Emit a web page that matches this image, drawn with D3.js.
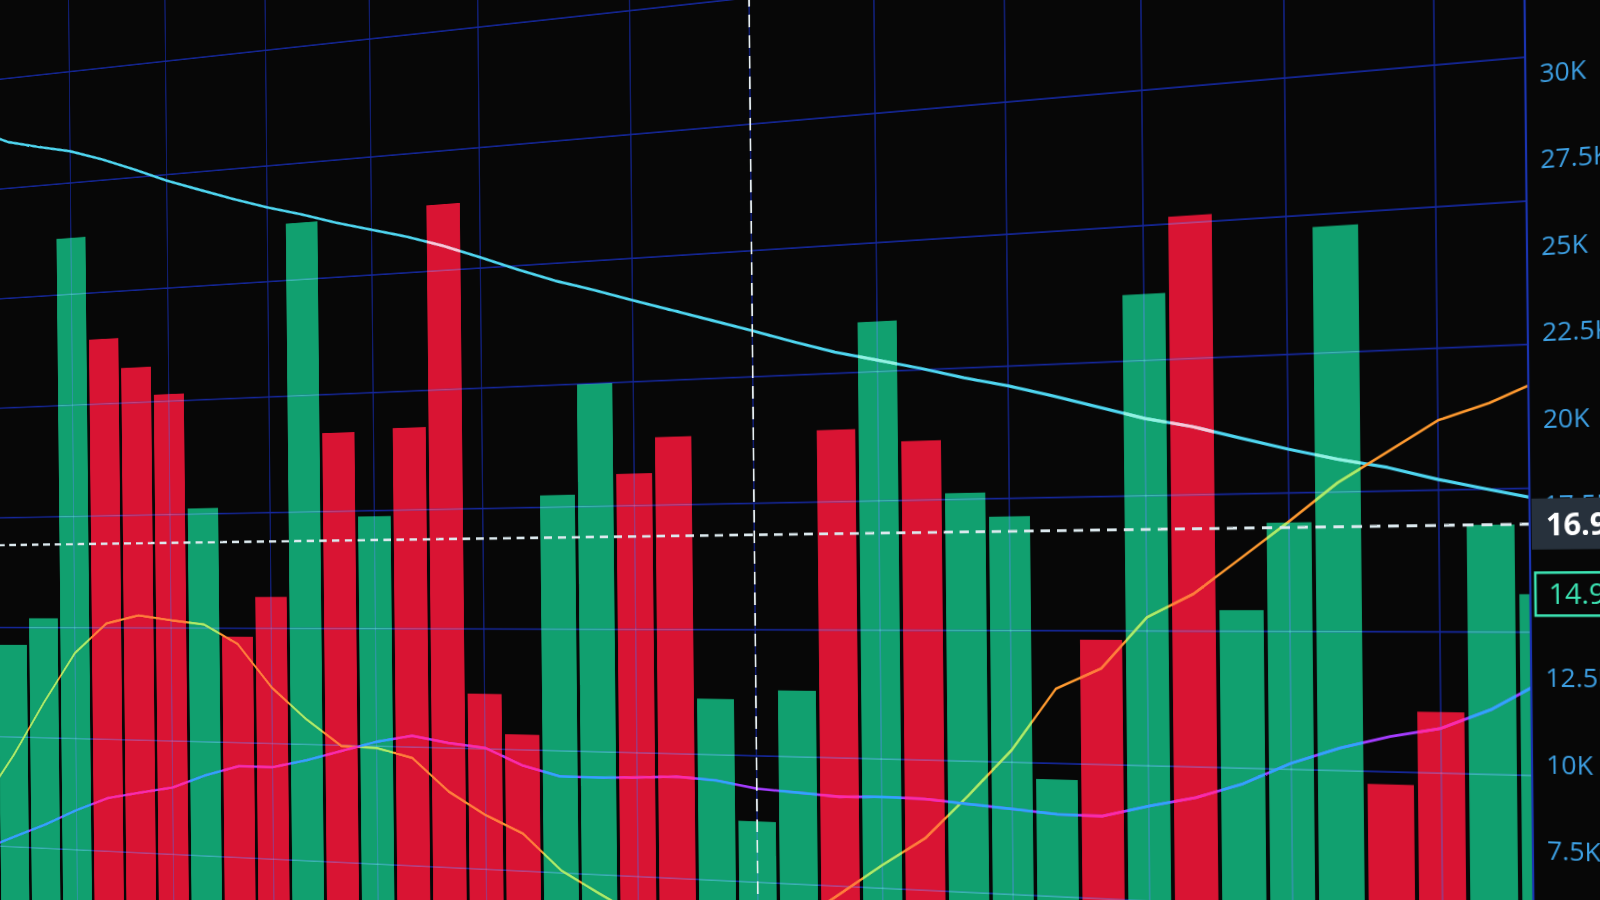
<!DOCTYPE html>
<html>
<head>
<meta charset="utf-8">
<script src="https://cdn.jsdelivr.net/npm/d3@7"></script>
<style>
  html, body { margin: 0; padding: 0; width: 1600px; height: 900px; overflow: hidden; background: #070707; }
  #chart { position: absolute; left: 0; top: 0; transform-origin: 0 0; }
</style>
</head>
<body>
<svg id="chart"></svg>
<script>
// ---------------- DATA ----------------
const barIndex = d3.range(39);
const volumes = [13.17, 14.18, 28.44, 24.59, 23.47, 22.43, 18.21, 13.52, 14.96, 28.37,
                 20.8, 17.8, 20.89, 28.64, 11.58, 10.2, 18.41, 22.16, 19.08, 20.28,
                 11.53, 7.51, 11.84, 20.34, 23.79, 19.9, 18.2, 17.43, 9.17, 13.55,
                 24.22, 26.55, 14.47, 17.11, 25.96, 9.3, 11.47, 16.96, 14.93];
const direction = ["up","up","up","down","down","down","up","down","down","up",
                   "down","up","down","down","down","down","up","up","down","down",
                   "up","up","up","down","up","down","up","up","up","down",
                   "up","down","up","up","up","down","down","up","up"];
const lineIndex = d3.range(-1, 39);
const slowLine = [32.8, 32.26, 31.96, 31.69, 31.28, 30.8, 30.28, 29.84, 29.41, 29.01,
                  28.66, 28.27, 27.93, 27.59, 27.18, 26.7, 26.2, 25.73, 25.34, 24.92,
                  24.51, 24.1, 23.69, 23.26, 22.86, 22.54, 22.22, 21.86, 21.55, 21.18,
                  20.78, 20.38, 20.09, 19.7, 19.32, 18.98, 18.7, 18.31, 17.98, 17.66];
const orangeLine = [7.2, 8.99, 11.02, 12.88, 13.99, 14.29, 14.11, 13.96, 13.26, 11.69,
                    10.57, 9.65, 9.61, 9.29, 8.15, 7.38, 6.79, 5.59, 4.86, 4.17,
                    3.66, 3.4, 3.58, 4.29, 5.26, 6.25, 7.16, 8.57, 10.06, 12.01,
                    12.66, 14.25, 14.97, 16.05, 17.14, 18.28, 19.16, 20.05, 20.51, 21.14];
const blueLine = [5.37, 5.89, 6.4, 6.99, 7.49, 7.73, 7.96, 8.45, 8.82, 8.82,
                  9.11, 9.47, 9.83, 10.07, 9.85, 9.71, 9.14, 8.8, 8.8, 8.84,
                  8.91, 8.82, 8.59, 8.5, 8.41, 8.45, 8.43, 8.31, 8.2, 8.08,
                  8.07, 8.43, 8.73, 9.2, 9.86, 10.35, 10.72, 10.99, 11.58, 12.43];
const yTicks = [7.5, 10, 12.5, 15, 17.5, 20, 22.5, 25, 27.5, 30, 32.5];
const yGrid = [5.5, 9.67, 13.83, 18, 22.17, 26.33, 30.5, 34.67];
const xGrid = [2, 5, 8, 11, 14, 18, 21, 24, 27, 30, 33, 36];
const crossIndex = 21;
const crossValue = 16.96;
const lastValue = 14.93;
const crossLabel = "16.96K";
const lastLabel = "14.93K";

// ---------------- FLAT CHART GEOMETRY ----------------
const S = 52, U0 = 3, V0 = 250;
const W = S * 45, H = 1400;
const uAxis = 37.75;
const x = d3.scaleLinear().domain([-U0, 45 - U0]).range([0, W]);
const y = d3.scaleLinear().domain([0, 30]).range([1087 + V0, 73 + V0]);

// ---------------- CAMERA (photo perspective) ----------------
const pa = 30.03, pb = 11, pc = -0.006258, yH = 600, kx = 0.0075, sc = 1600 / 1568;
const G = 1 + pc * uAxis;
const mul = (A, B) => A.map((r, i) => B[0].map((_, j) => r.reduce((s, _, k) => s + A[i][k] * B[k][j], 0)));
const Muv = [[pa, kx, pb - 450 * kx], [yH * pc, G, yH * (1 - G)], [pc, 0, 1]];
const Tinv = [[1 / S, 0, -U0], [0, 1, -V0], [0, 0, 1]];
const Hm = mul(mul([[sc, 0, 0], [0, sc, 0], [0, 0, 1]], Muv), Tinv);
const m3d = [Hm[0][0], Hm[1][0], 0, Hm[2][0], Hm[0][1], Hm[1][1], 0, Hm[2][1], 0, 0, 1, 0, Hm[0][2], Hm[1][2], 0, Hm[2][2]];

const svg = d3.select("#chart").attr("width", W).attr("height", H)
  .style("transform", `matrix3d(${m3d.join(",")})`);

svg.append("rect").attr("width", W).attr("height", H).attr("fill", "#070707");

const defs = svg.append("defs");
const xAx = x(uAxis);
defs.append("clipPath").attr("id", "plotClip").append("rect")
  .attr("x", 0).attr("y", 0).attr("width", xAx).attr("height", H);

const bw = 0.92;
const bars = barIndex.map(i => ({ i, v: volumes[i], dir: direction[i] }));
["up", "down"].forEach(dir => {
  defs.append("clipPath").attr("id", "clip-" + dir)
    .selectAll("rect").data(bars.filter(d => d.dir === dir)).join("rect")
    .attr("x", d => x(d.i - bw / 2)).attr("width", x(bw) - x(0))
    .attr("y", d => y(d.v)).attr("height", d => y(0) - y(d.v));
});

const plot = svg.append("g").attr("clip-path", "url(#plotClip)");

// bars
plot.append("g").selectAll("rect").data(bars).join("rect")
  .attr("x", d => x(d.i - bw / 2)).attr("width", x(bw) - x(0))
  .attr("y", d => y(d.v)).attr("height", d => y(0) - y(d.v))
  .attr("fill", d => d.dir === "up" ? "#11a06f" : "#d91433");

// tinted drawing helper: base colour on black, tints over green / red bars
function tinted(drawFn, base, overUp, overDown) {
  drawFn(plot.append("g"), base, 1);
  drawFn(plot.append("g").attr("clip-path", "url(#clip-up)"), overUp, 0);
  drawFn(plot.append("g").attr("clip-path", "url(#clip-down)"), overDown, 0);
}

// grid
tinted((g, col, isBase) => {
  g.selectAll("line.h").data(yGrid).join("line").attr("class", "h")
    .attr("x1", 0).attr("x2", xAx).attr("y1", d => y(d)).attr("y2", d => y(d))
    .attr("stroke", col).attr("stroke-width", 1.8)
    .attr("stroke-opacity", isBase ? 1 : 0.8);
  g.selectAll("line.v").data(xGrid).join("line").attr("class", "v")
    .attr("x1", d => x(d)).attr("x2", d => x(d)).attr("y1", 0).attr("y2", H)
    .attr("stroke", col).attr("stroke-width", 1.4)
    .attr("stroke-opacity", isBase ? 1 : 0.75);
}, "#15279a", "#45dcb4", "#ee4a78");

const lineGen = d3.line().x(d => x(d.i)).y(d => y(d.v));
const mkSeries = arr => lineIndex.map((i, k) => ({ i, v: arr[k] }));

function drawSeries(arr, width, base, overUp, overDown) {
  tinted((g, col) => {
    g.append("path").datum(mkSeries(arr)).attr("d", lineGen)
      .attr("fill", "none").attr("stroke", col).attr("stroke-width", width)
      .attr("stroke-linejoin", "round").attr("stroke-linecap", "round");
  }, base, overUp, overDown);
}
drawSeries(slowLine, 3.2, "#4fd6f0", "#93f2df", "#ffc6d6");
drawSeries(orangeLine, 2.6, "#ff9a30", "#a6ef6c", "#ff7b3c");
drawSeries(blueLine, 2.8, "#a43cff", "#2ea6ff", "#ff2aa6");

// crosshair
plot.append("line")
  .attr("x1", 0).attr("x2", xAx).attr("y1", y(crossValue)).attr("y2", y(crossValue))
  .attr("stroke", "#dce9ee").attr("stroke-width", 3).attr("stroke-dasharray", "11 8");
plot.append("line")
  .attr("x1", x(crossIndex)).attr("x2", x(crossIndex)).attr("y1", 0).attr("y2", H)
  .attr("stroke", "#e6eef2").attr("stroke-width", 2.2).attr("stroke-dasharray", "14 9");

// axis line
svg.append("line").attr("x1", xAx).attr("x2", xAx).attr("y1", 0).attr("y2", H)
  .attr("stroke", "#1a33b0").attr("stroke-width", 2.2);

// axis labels
const axis = svg.append("g").attr("transform", `translate(${xAx},0)`)
  .call(d3.axisRight(y).tickValues(yTicks).tickFormat(d => d + "K").tickSize(0).tickPadding(14));
axis.select(".domain").remove();
axis.selectAll("text").attr("fill", "#3d9fe2").attr("font-size", 26)
  .attr("font-family", "'Open Sans', 'Noto Sans', sans-serif");

// crosshair value box
svg.append("rect").attr("x", xAx + 2).attr("y", y(crossValue) - 25)
  .attr("width", W - xAx).attr("height", 50).attr("fill", "#27313c");
svg.append("text").attr("x", xAx + 16).attr("y", y(crossValue)).attr("dy", "0.36em")
  .attr("fill", "#ffffff").attr("font-size", 30).attr("font-weight", 700)
  .attr("font-family", "'Open Sans', 'Noto Sans', sans-serif").text(crossLabel);

// last value box
svg.append("rect").attr("x", xAx + 5).attr("y", y(lastValue) - 21)
  .attr("width", W - xAx).attr("height", 42).attr("fill", "#070707")
  .attr("stroke", "#3de6b5").attr("stroke-width", 2.5);
svg.append("text").attr("x", xAx + 18).attr("y", y(lastValue)).attr("dy", "0.36em")
  .attr("fill", "#3de6b5").attr("font-size", 28)
  .attr("font-family", "'Open Sans', 'Noto Sans', sans-serif").text(lastLabel);
</script>
</body>
</html>
